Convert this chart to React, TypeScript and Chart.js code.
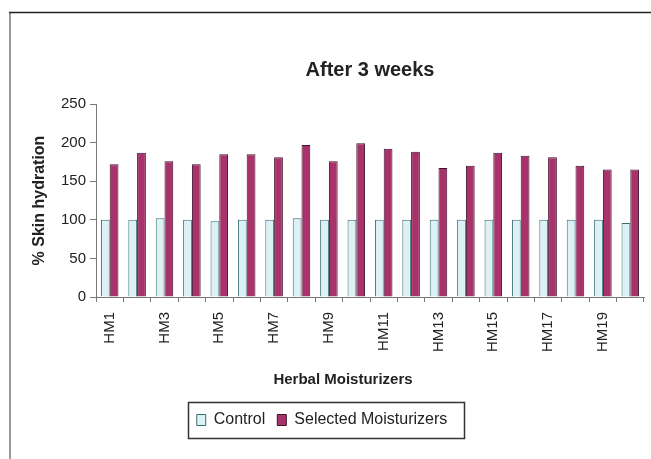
import React, { useEffect, useRef } from "react";
import { Chart, registerables } from "chart.js";

Chart.register(...registerables);

const categories = [
  "HM1", "HM2", "HM3", "HM4", "HM5", "HM6", "HM7", "HM8", "HM9", "HM10",
  "HM11", "HM12", "HM13", "HM14", "HM15", "HM16", "HM17", "HM18", "HM19", "HM20",
];
const controlValues = [100, 100, 102, 100, 98, 100, 100, 102, 100, 100, 100, 100, 100, 100, 100, 100, 100, 100, 100, 96];
const selectedValues = [172, 187, 176, 172, 185, 185, 181, 197, 176, 199, 192, 188, 167, 170, 187, 183, 181, 170, 165, 165];
const yTickValues = [0, 50, 100, 150, 200, 250];

const chartTitle = "After 3 weeks";
const xTitle = "Herbal Moisturizers";
const yTitle = "% Skin hydration";
const seriesNames = ["Control", "Selected Moisturizers"];

const FONT = "'Liberation Sans', Arial, Helvetica, sans-serif";

const framePlugin = {
  id: "frame",
  beforeDraw(chart: any) {
    const ctx = chart.ctx;
    ctx.save();
    ctx.strokeStyle = "#9a9a9a";
    ctx.lineWidth = 2;
    ctx.beginPath();
    ctx.moveTo(10, 12);
    ctx.lineTo(10, chart.height);
    ctx.stroke();
    ctx.strokeStyle = "#222";
    ctx.lineWidth = 1.5;
    ctx.beginPath();
    ctx.moveTo(9, 12.5);
    ctx.lineTo(chart.width, 12.5);
    ctx.stroke();
    ctx.restore();
  },
};

const extrasPlugin = {
  id: "extras",
  afterDraw(chart: any) {
    const ctx = chart.ctx;
    ctx.save();
    // x axis title
    ctx.font = `bold 15px ${FONT}`;
    ctx.fillStyle = "#222";
    ctx.textAlign = "center";
    ctx.textBaseline = "middle";
    ctx.fillText(xTitle, 343, 380);
    // legend border
    const legend = chart.legend;
    if (legend && legend.legendHitBoxes && legend.legendHitBoxes.length) {
      const hb = legend.legendHitBoxes;
      const first = hb[0];
      const last = hb[hb.length - 1];
      const left = first.left - 9;
      const right = last.left + last.width + 16;
      const top = first.top - 10;
      const bottom = first.top + first.height + 10;
      ctx.strokeStyle = "#333";
      ctx.lineWidth = 1.5;
      ctx.strokeRect(Math.round(left) + 0.5, Math.round(top) + 0.5, Math.round(right - left), Math.round(bottom - top));
    }
    ctx.restore();
  },
};

export default function App() {
  const canvasRef = useRef<HTMLCanvasElement | null>(null);

  useEffect(() => {
    if (!canvasRef.current) return;
    Chart.defaults.font.family = FONT;
    Chart.defaults.color = "#222";
    const chart = new Chart(canvasRef.current, {
      type: "bar",
      data: {
        labels: categories,
        datasets: [
          {
            label: seriesNames[0],
            data: controlValues,
            backgroundColor: "#dcf1f5",
            borderColor: "#3b6e6f",
            borderWidth: 1,
            categoryPercentage: 0.64,
            barPercentage: 1,
          },
          {
            label: seriesNames[1],
            data: selectedValues,
            backgroundColor: "#a8336c",
            borderColor: "#3e1428",
            borderWidth: 1,
            categoryPercentage: 0.64,
            barPercentage: 1,
          },
        ],
      },
      options: {
        responsive: false,
        animation: false,
        layout: { padding: { left: 0, right: 7, top: 0, bottom: 21 } },
        plugins: {
          tooltip: { enabled: false },
          title: {
            display: true,
            text: chartTitle,
            fullSize: false,
            color: "#222",
            font: { size: 20, weight: "bold", family: FONT },
            padding: { top: 58, bottom: 22 },
          },
          legend: {
            position: "bottom",
            labels: {
              font: { size: 16, family: FONT },
              color: "#222",
              boxWidth: 9,
              boxHeight: 11,
              padding: 12,
            },
          },
        },
        scales: {
          x: {
            afterFit: (scale: any) => {
              scale.height = 103;
              scale.paddingLeft = 0;
              scale.paddingRight = 0;
            },
            grid: {
              display: true,
              drawOnChartArea: false,
              drawTicks: true,
              tickLength: 5,
              color: "#777",
              offset: true,
            },
            border: { display: true, color: "#777" },
            ticks: {
              autoSkip: false,
              maxRotation: 90,
              minRotation: 90,
              padding: 10,
              color: "#222",
              font: { size: 15, family: FONT },
              callback: (_v: any, i: number) => (i % 2 === 0 ? categories[i] : ""),
            },
            title: { display: false },
          },
          y: {
            min: yTickValues[0],
            max: yTickValues[yTickValues.length - 1],
            afterFit: (scale: any) => {
              scale.width = 96;
            },
            afterBuildTicks: (scale: any) => {
              scale.ticks = yTickValues.map((v) => ({ value: v }));
            },
            grid: {
              display: true,
              drawOnChartArea: false,
              drawTicks: true,
              tickLength: 6,
              color: "#777",
            },
            border: { display: true, color: "#777" },
            ticks: {
              padding: 4,
              color: "#222",
              font: { size: 15, family: FONT },
            },
            title: {
              display: true,
              text: yTitle,
              color: "#222",
              font: { size: 16, weight: "bold", family: FONT },
              padding: { top: 30, bottom: 0 },
            },
          },
        },
      },
      plugins: [framePlugin, extrasPlugin],
    });
    return () => chart.destroy();
  }, []);

  return (
    <div style={{ position: "fixed", left: 0, top: 0, width: 651, height: 459, background: "#fff" }}>
      <canvas ref={canvasRef} width={651} height={459} style={{ display: "block" }} />
    </div>
  );
}
